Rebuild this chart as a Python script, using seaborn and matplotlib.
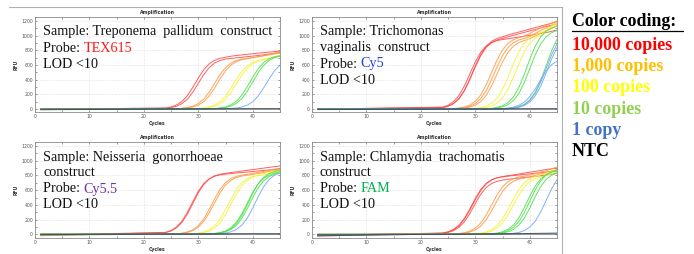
# qPCR amplification curves, four constructs, with a colour key on the right

import pandas as pd
import seaborn as sns
import matplotlib.pyplot as plt
from matplotlib.lines import Line2D
from matplotlib.ticker import AutoMinorLocator

# cycle numbers where RFU was read (flat baseline between 1 and 24)
cycles = [1] + list(range(24, 46))

# Treponema pallidum construct (TEX615)
tp_copies = ["10,000", "10,000", "1,000", "1,000", "100", "100", "10", "10", "1", "NTC", "NTC"]
tp_rfu = [
    [-5, 14, 28, 55, 103, 184, 297, 423, 536, 617, 665, 692, 706, 720, 730, 738, 746, 754, 762, 769, 776, 783, 790],
    [0, 10, 19, 38, 74, 135, 230, 350, 470, 565, 627, 662, 681, 690, 698, 706, 714, 722, 730, 740, 750, 760, 770],
    [0, 0, 2, 5, 10, 19, 38, 74, 135, 230, 350, 470, 565, 627, 662, 681, 690, 700, 712, 725, 738, 750, 762],
    [-4, 0, 2, 4, 8, 14, 27, 53, 100, 179, 288, 412, 522, 600, 647, 673, 687, 700, 715, 730, 745, 762, 780],
    [0, 0, 0, 1, 2, 3, 5, 8, 13, 27, 52, 99, 176, 284, 406, 514, 591, 638, 663, 677, 695, 715, 735],
    [-3, 0, 0, 1, 1, 2, 4, 6, 10, 19, 37, 72, 133, 227, 345, 463, 557, 618, 653, 672, 690, 710, 730],
    [0, 0, 0, 0, 0, 1, 1, 2, 3, 4, 6, 14, 29, 56, 106, 189, 305, 435, 551, 634, 684, 711, 726],
    [-6, 0, 0, 0, 0, 0, 1, 1, 2, 3, 5, 10, 20, 40, 78, 143, 243, 370, 497, 597, 662, 700, 720],
    [-8, 0, 0, 0, 0, 0, 0, 0, 1, 1, 2, 3, 5, 8, 14, 27, 53, 100, 179, 288, 412, 522, 600],
    [-10, -2, -2, -2, -2, -1, -1, -1, -1, -1, 0, 0, 0, 0, 0, 0, 0, 1, 1, 1, 1, 1, 2],
    [0, 2, 2, 2, 2, 2, 2, 2, 2, 2, 2, 2, 2, 2, 2, 3, 3, 3, 3, 3, 3, 3, 3],
]

# Trichomonas vaginalis construct (Cy5)
tv_copies = ["10,000", "10,000", "10,000", "1,000", "1,000", "1,000", "100", "100",
             "10", "10", "10", "1", "1", "1", "NTC", "NTC"]
tv_rfu = [
    [-5, 19, 39, 76, 144, 255, 412, 588, 745, 857, 924, 961, 985, 1010, 1030, 1050, 1070, 1090, 1110, 1130, 1150, 1170, 1190],
    [0, 19, 38, 74, 141, 250, 404, 576, 730, 840, 905, 942, 962, 985, 1005, 1025, 1045, 1065, 1085, 1105, 1125, 1142, 1160],
    [-3, 26, 52, 101, 185, 316, 480, 644, 775, 859, 908, 934, 947, 958, 970, 982, 994, 1006, 1018, 1030, 1042, 1060, 1078],
    [0, 0, 3, 6, 14, 27, 54, 105, 193, 329, 500, 671, 807, 895, 946, 973, 995, 1030, 1070, 1105, 1140, 1170, 1200],
    [-4, 0, 2, 5, 10, 19, 38, 74, 141, 250, 404, 576, 730, 840, 905, 942, 962, 990, 1030, 1070, 1105, 1140, 1170],
    [0, 0, 1, 3, 6, 13, 26, 52, 101, 185, 316, 480, 644, 775, 859, 908, 934, 960, 995, 1030, 1065, 1100, 1140],
    [-3, 0, 0, 0, 1, 2, 4, 8, 20, 41, 80, 151, 268, 433, 617, 782, 900, 970, 1009, 1040, 1080, 1130, 1180],
    [0, 0, 0, 0, 0, 1, 2, 4, 8, 20, 41, 80, 151, 268, 433, 617, 782, 900, 970, 1009, 1060, 1110, 1160],
    [-5, 0, 0, 0, 0, 0, 1, 1, 2, 4, 8, 22, 44, 87, 165, 293, 474, 676, 857, 986, 1063, 1105, 1128],
    [0, 0, 0, 0, 0, 0, 0, 1, 1, 3, 5, 15, 30, 59, 116, 212, 362, 550, 738, 888, 985, 1041, 1070],
    [-2, 0, 0, 0, 0, 0, 0, 0, 0, 1, 1, 2, 3, 5, 17, 32, 64, 124, 228, 388, 590, 792, 952],
    [-6, 0, 0, 0, 0, 0, 0, 0, 0, 1, 1, 2, 3, 13, 25, 50, 95, 168, 272, 400, 520, 605, 650],
    [0, 0, 0, 0, 0, 0, 0, 0, 0, 0, 1, 1, 2, 4, 15, 30, 59, 116, 212, 362, 550, 738, 888],
    [-4, 0, 0, 0, 0, 0, 0, 0, 0, 0, 1, 1, 2, 3, 12, 24, 48, 95, 178, 310, 490, 680, 840],
    [-8, -2, -2, -2, -2, -2, -1, -1, -1, -1, -1, 0, 0, 0, 0, 0, 0, 0, 0, 1, 1, 1, 1],
    [0, 1, 1, 1, 1, 1, 1, 1, 1, 1, 1, 1, 2, 2, 2, 2, 2, 2, 2, 2, 2, 2, 2],
]

# Neisseria gonorrhoeae construct (Cy5.5)
ng_copies = ["10,000", "10,000", "1,000", "1,000", "100", "100", "10", "10", "10", "1", "NTC", "NTC"]
ng_rfu = [
    [-20, 23, 45, 88, 162, 276, 420, 564, 678, 752, 795, 817, 829, 840, 850, 860, 870, 880, 890, 900, 910, 920, 930],
    [-12, 26, 52, 100, 180, 300, 445, 585, 690, 755, 790, 808, 818, 826, 833, 840, 847, 854, 861, 868, 875, 882, 890],
    [-8, 0, 2, 4, 16, 32, 62, 118, 209, 338, 482, 611, 703, 758, 788, 804, 815, 828, 842, 856, 870, 885, 900],
    [0, 0, 1, 3, 12, 25, 50, 97, 176, 292, 430, 565, 670, 735, 772, 792, 803, 815, 828, 841, 854, 867, 880],
    [-5, 0, 0, 0, 1, 2, 4, 16, 32, 62, 118, 209, 338, 482, 611, 703, 758, 788, 808, 825, 840, 855, 870],
    [0, 0, 0, 0, 1, 2, 5, 11, 22, 44, 86, 158, 270, 410, 550, 662, 734, 776, 798, 810, 825, 840, 855],
    [-10, 0, 0, 0, 0, 0, 1, 1, 2, 5, 12, 23, 46, 89, 164, 280, 425, 570, 686, 761, 804, 829, 850],
    [0, 0, 0, 0, 0, 0, 0, 1, 1, 3, 8, 16, 33, 65, 122, 217, 350, 500, 633, 728, 785, 817, 835],
    [-6, 0, 0, 0, 0, 0, 1, 1, 2, 4, 10, 20, 40, 78, 146, 255, 400, 560, 690, 775, 825, 852, 870],
    [0, 0, 0, 0, 0, 0, 0, 0, 1, 1, 2, 5, 17, 34, 66, 125, 222, 358, 512, 648, 746, 804, 836],
    [-4, 5, 5, 5, 5, 5, 5, 6, 6, 6, 6, 6, 6, 6, 6, 6, 7, 7, 7, 7, 7, 7, 7],
    [3, 2, 2, 2, 2, 2, 2, 2, 2, 2, 2, 2, 2, 2, 3, 3, 3, 3, 3, 3, 3, 3, 3],
]

# Chlamydia trachomatis construct (FAM)
ct_copies = ["10,000", "10,000", "10,000", "1,000", "1,000", "100", "100", "10", "10", "10", "1", "NTC", "NTC"]
ct_rfu = [
    [-25, 15, 31, 61, 115, 204, 330, 470, 596, 686, 739, 769, 785, 797, 808, 820, 832, 844, 856, 868, 880, 890, 900],
    [-15, 17, 34, 67, 125, 218, 345, 488, 610, 694, 741, 768, 781, 790, 798, 806, 814, 822, 830, 838, 846, 853, 860],
    [-10, 12, 25, 50, 94, 170, 283, 420, 545, 637, 691, 721, 737, 748, 756, 764, 772, 780, 788, 796, 806, 818, 830],
    [-8, 0, 2, 5, 11, 22, 43, 84, 154, 263, 400, 537, 646, 716, 757, 779, 790, 805, 825, 845, 865, 890, 915],
    [0, 0, 1, 3, 6, 15, 30, 59, 112, 199, 321, 459, 581, 668, 721, 750, 765, 780, 800, 820, 840, 860, 880],
    [-6, 0, 0, 0, 1, 2, 4, 8, 16, 32, 62, 118, 209, 338, 482, 611, 703, 758, 788, 808, 830, 855, 880],
    [0, 0, 0, 0, 0, 1, 3, 6, 11, 22, 43, 84, 154, 263, 400, 537, 646, 716, 757, 779, 800, 825, 850],
    [-12, 0, 0, 0, 0, 0, 0, 1, 1, 3, 8, 17, 34, 67, 126, 224, 363, 517, 656, 754, 813, 846, 865],
    [0, 0, 0, 0, 0, 0, 0, 1, 1, 2, 5, 12, 25, 49, 95, 174, 296, 450, 604, 726, 806, 851, 876],
    [-5, 0, 0, 0, 0, 0, 0, 0, 1, 1, 3, 6, 17, 34, 66, 125, 222, 358, 512, 648, 746, 804, 836],
    [-3, 0, 0, 0, 0, 0, 0, 0, 0, 1, 1, 2, 3, 6, 13, 25, 50, 97, 178, 303, 460, 617, 742],
    [-20, 2, 3, 3, 4, 4, 5, 5, 6, 6, 7, 7, 8, 8, 9, 9, 10, 11, 12, 13, 14, 15, 16],
    [0, 1, 1, 1, 1, 1, 1, 1, 2, 2, 2, 2, 2, 2, 2, 2, 3, 3, 3, 3, 3, 3, 3],
]

# text inside each panel: (line, colour of probe name)
panel_text = {
    "tp": [["Sample: Treponema  pallidum  construct"], ["Probe: ", "TEX615"], ["LOD <10"]],
    "tv": [["Sample: Trichomonas"], ["vaginalis  construct"], ["Probe: ", "Cy5"], ["LOD <10"]],
    "ng": [["Sample: Neisseria  gonorrhoeae"], ["construct"], ["Probe: ", "Cy5.5"], ["LOD <10"]],
    "ct": [["Sample: Chlamydia  trachomatis"], ["construct"], ["Probe: ", "FAM"], ["LOD <10"]],
}
probe_colors = {"tp": "#ff1a1a", "tv": "#1f3fe0", "ng": "#7030a0", "ct": "#00b050"}

legend_labels = ["10,000 copies", "1,000 copies", "100 copies", "10 copies", "1 copy", "NTC"]
legend_colors = ["#ff0000", "#ffc000", "#ffff00", "#92d050", "#4472c4", "#000000"]

curve_palette = {"10,000": "#ff4d4d", "1,000": "#ff9a45", "100": "#f7f23a",
                 "10": "#4fe24f", "1": "#74aaf2", "NTC": "#3c4a55"}

# long table for seaborn
rows = []
for name, rfu, copies in [("tp", tp_rfu, tp_copies), ("tv", tv_rfu, tv_copies),
                          ("ng", ng_rfu, ng_copies), ("ct", ct_rfu, ct_copies)]:
    for well, (vals, c) in enumerate(zip(rfu, copies)):
        for cyc, v in zip(cycles, vals):
            rows.append({"panel": name, "well": well, "copies": c, "cycle": cyc, "rfu": v})
df = pd.DataFrame(rows)

sns.set_theme(style="white")
plt.rcParams["font.family"] = ["DejaVu Sans"]

W, H = 694, 254
fig = plt.figure(figsize=(W / 100, H / 100), dpi=100)


def px_axes(left, right, top, bottom):
    return [left / W, 1 - bottom / H, (right - left) / W, (bottom - top) / H]


axes_px = {
    "tp": (35, 280, 17, 112.3),
    "tv": (312, 557, 17, 112.3),
    "ng": (35, 280, 142, 237.6),
    "ct": (312, 557, 142, 237.6),
}

for name, box in axes_px.items():
    ax = fig.add_axes(px_axes(*box))
    sub = df[df["panel"] == name]
    sns.lineplot(data=sub, x="cycle", y="rfu", hue="copies", units="well",
                 estimator=None, palette=curve_palette, legend=False,
                 lw=0.7, alpha=0.9, ax=ax)
    ax.set_xlim(0, 45)
    ax.set_ylim(-45, 1255)
    ax.set_xticks([0, 10, 20, 30, 40])
    ax.set_yticks([0, 200, 400, 600, 800, 1000, 1200])
    ax.xaxis.set_minor_locator(AutoMinorLocator(2))
    ax.yaxis.set_minor_locator(AutoMinorLocator(2))
    ax.tick_params(which="both", labelsize=3.3, length=1.5, width=0.4, pad=1.5,
                   colors="#555555", left=True, bottom=True, top=True, right=True,
                   direction="in")
    ax.tick_params(which="major", labelleft=True, labelbottom=True)
    ax.grid(True, ls=":", lw=0.4, color="#c8c8c8")
    for sp in ax.spines.values():
        sp.set_color("#8a8a8a")
        sp.set_linewidth(0.6)
    ax.set_title("Amplification", fontsize=3.3, fontweight="bold", pad=2, color="#333333")
    ax.set_xlabel("Cycles", fontsize=3.3, fontweight="bold", labelpad=1.5, color="#333333")
    ax.set_ylabel("RFU", fontsize=3.3, fontweight="bold", labelpad=2, color="#333333")

    # sample / probe / LOD text
    x0 = box[0] + 8
    y0 = box[2] + 15
    for i, parts in enumerate(panel_text[name]):
        y = 1 - (y0 + 16 * i) / H
        if len(parts) == 1:
            fig.text(x0 / W, y, parts[0], fontsize=10.2, family="Liberation Serif",
                     color="#111111", va="center")
        else:
            t = fig.text(x0 / W, y, parts[0], fontsize=10.2, family="Liberation Serif",
                         color="#111111", va="center")
            fig.canvas.draw()
            bb = t.get_window_extent()
            fig.text(bb.x1 / W, y, parts[1], fontsize=10.2, family="Liberation Serif",
                     color=probe_colors[name], va="center")

# frame lines of the slide
fig.add_artist(Line2D([9 / W, 562 / W], [1 - 7 / H, 1 - 7 / H], color="#b0b0b0", lw=0.8))
fig.add_artist(Line2D([562 / W, 562 / W], [1 - 7 / H, 0], color="#b0b0b0", lw=0.8))

# colour key
fig.text(572 / W, 1 - 22 / H, "Color coding:", fontsize=12.9, family="Liberation Serif",
         fontweight="bold", color="black", va="center")
fig.add_artist(Line2D([572 / W, 683 / W], [1 - 31 / H, 1 - 31 / H], color="black", lw=0.9))
for i, (lab, col) in enumerate(zip(legend_labels, legend_colors)):
    fig.text(572 / W, 1 - (45 + 21.4 * i) / H, lab, fontsize=12.9, family="Liberation Serif",
             fontweight="bold", color=col, va="center")

fig.savefig("out.png", dpi=100)
